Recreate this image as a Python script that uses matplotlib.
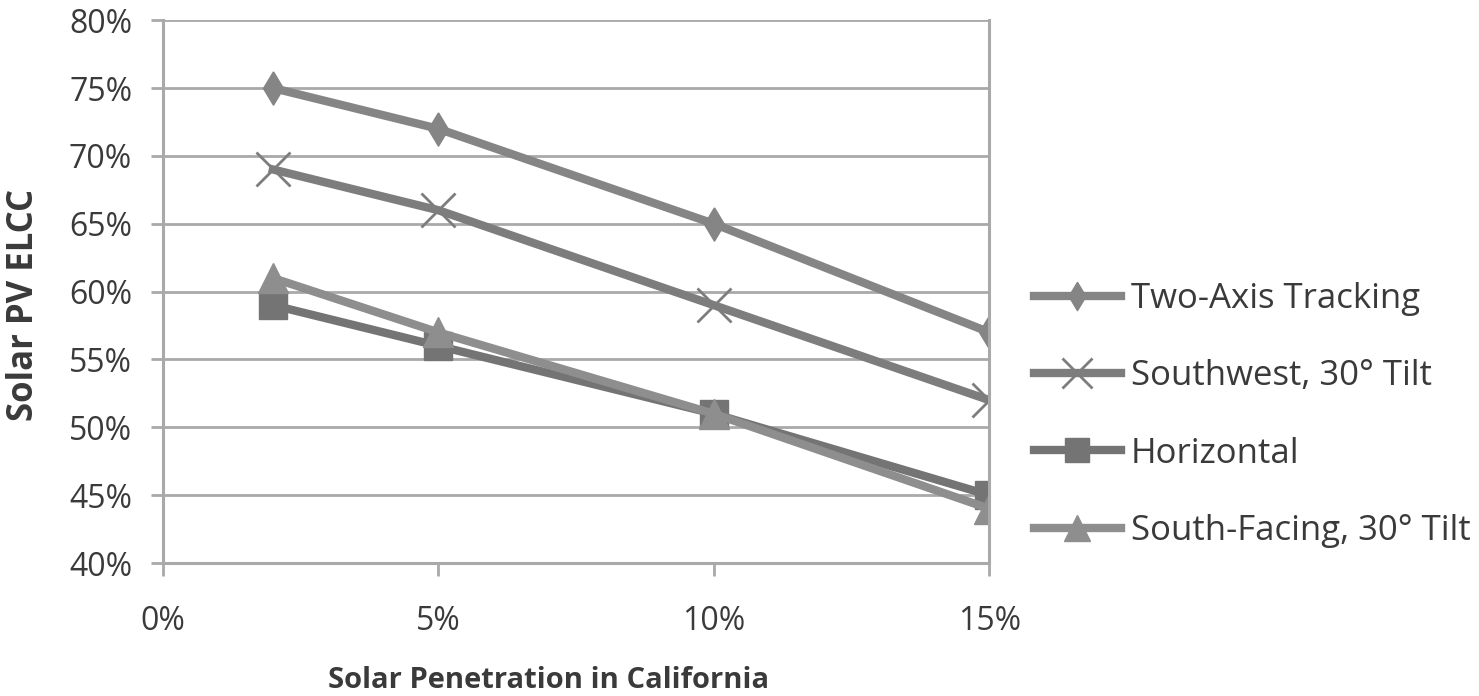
import matplotlib
matplotlib.use('Agg')
import matplotlib.pyplot as plt
from matplotlib.ticker import PercentFormatter

plt.rcParams['font.family'] = ['Open Sans', 'DejaVu Sans']

# data
penetration = [0.02, 0.05, 0.10, 0.15]
two_axis = [0.75, 0.72, 0.65, 0.57]
southwest = [0.69, 0.66, 0.59, 0.52]
horizontal = [0.59, 0.56, 0.51, 0.45]
south_facing = [0.61, 0.57, 0.51, 0.44]
names = ["Two-Axis Tracking", "Southwest, 30\u00b0 Tilt", "Horizontal",
         "South-Facing, 30\u00b0 Tilt"]
x_ticks = [0, 0.05, 0.10, 0.15]
y_ticks = [0.40, 0.45, 0.50, 0.55, 0.60, 0.65, 0.70, 0.75, 0.80]

# tall thin diamond like the excel one
diamond = [(0, 1), (0.6, 0), (0, -1), (-0.6, 0), (0, 1)]
markers = [diamond, "x", "s", "^"]
msizes = [24, 25, 20, 22]
colors = ["#858585", "#7d7d7d", "#747474", "#8e8e8e"]

grid_col = "#a9a9a9"
text_col = "#3a3a3a"

fig = plt.figure(figsize=(14.79, 6.96), dpi=100)
ax = fig.add_axes([0.110, 0.191, 0.559, 0.780])

for name, vals, mk, ms, c in zip(names, [two_axis, southwest, horizontal, south_facing],
                                 markers, msizes, colors):
    ax.plot(penetration, vals, color=c, lw=6, marker=mk, ms=ms,
            mec=c, mfc=c, mew=2 if mk == "x" else 1, label=name)

ax.set_xlim(0, 0.15)
ax.set_ylim(0.40, 0.80)
ax.set_xticks(x_ticks)
ax.set_yticks(y_ticks)
ax.xaxis.set_major_formatter(PercentFormatter(1.0, decimals=0))
ax.yaxis.set_major_formatter(PercentFormatter(1.0, decimals=0))

ax.grid(axis='y', color=grid_col, lw=2)
ax.set_axisbelow(True)
ax.spines['top'].set_visible(False)
for s in ['left', 'right', 'bottom']:
    ax.spines[s].set_color(grid_col)
    ax.spines[s].set_linewidth(2.2)

ax.tick_params(axis='y', length=9, width=2, color=grid_col, pad=13,
               labelsize=23, labelcolor=text_col)
ax.tick_params(axis='x', length=9, width=2, color=grid_col, pad=21,
               labelsize=23, labelcolor=text_col)

ax.set_ylabel("Solar PV ELCC", fontsize=25, fontweight='bold', color=text_col)
ax.yaxis.set_label_coords(-0.146, 0.475)
ax.set_xlabel("Solar Penetration in California", fontsize=21, fontweight='bold',
              color=text_col)
ax.xaxis.set_label_coords(0.467, -0.190)

ax.legend(loc='center left', bbox_to_anchor=(0.678, 0.404),
          bbox_transform=fig.transFigure, frameon=False,
          fontsize=25, labelcolor=text_col, handlelength=2.5, labelspacing=1.25,
          handletextpad=0.28, markerscale=0.85)

fig.savefig("out.png", dpi=100)
